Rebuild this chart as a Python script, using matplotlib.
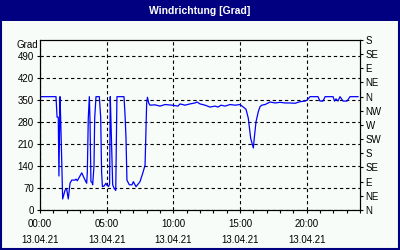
import matplotlib
matplotlib.use("Agg")
import matplotlib.pyplot as plt
from matplotlib.patches import Rectangle

# wind direction over the day, hours since 00:00 on 13.04.21
hours = [0, 1.2, 1.28, 1.37, 1.42, 1.5, 1.55, 1.7, 1.88, 2.0, 2.12, 2.25, 2.38, 2.63,
         2.7, 2.8, 3.13, 3.38, 3.5, 3.55, 3.62, 3.7, 3.75, 3.82, 3.9, 3.95, 4.05, 4.1,
         4.2, 4.45, 4.55, 4.62, 4.68, 4.8, 4.95, 5.03, 5.15, 5.22, 5.27, 5.32, 5.45,
         5.55, 5.68, 5.77, 6.3, 6.38, 6.45, 6.52, 6.7, 6.9, 7.0, 7.2, 7.5, 7.73, 7.88,
         8.0, 8.06, 8.15, 8.25, 8.63, 9.0, 9.38, 9.9, 10.35, 10.5, 10.88, 11.25, 11.63,
         11.78, 12.0, 12.38, 12.75, 13.13, 13.35, 13.58, 13.88, 14.25, 14.63, 15.0,
         15.25, 15.45, 15.62, 15.8, 16.0, 16.07, 16.2, 16.37, 16.5, 16.63, 16.88, 17.25,
         17.63, 18.0, 18.38, 18.75, 19.13, 19.5, 19.88, 20.03, 20.25, 20.85, 21.0, 21.23,
         21.38, 21.98, 22.09, 22.2, 22.35, 22.5, 22.73, 23.03, 23.25, 23.85]
grad = [360, 360, 295, 295, 108, 360, 290, 35, 63, 67, 35, 85, 95, 95,
        98, 93, 118, 95, 85, 120, 290, 360, 285, 90, 88, 80, 140, 290,
        360, 360, 295, 120, 74, 76, 85, 78, 75, 82, 360, 285, 80,
        70, 62, 360, 360, 300, 228, 95, 80, 80, 90, 74, 90, 120, 143,
        340, 358, 340, 333, 334, 330, 335, 333, 330, 337, 333, 337, 340,
        343, 337, 333, 327, 330, 327, 333, 330, 335, 333, 335,
        327, 320, 292, 228, 197, 228, 280, 312, 328, 333, 335, 343,
        340, 342, 340, 340, 339, 344, 346, 349, 360, 360, 346, 346,
        360, 360, 346, 353, 346, 360, 346, 346, 360, 360]

left_ticks = [0, 70, 140, 210, 280, 350, 420, 490]
compass = ["N", "NE", "E", "SE", "S", "SW", "W", "NW", "N", "NE", "E", "SE", "S"]
x_major = [0, 5, 10, 15, 20]
x_labels = ["00:00\n13.04.21", "05:00\n13.04.21", "10:00\n13.04.21",
            "15:00\n13.04.21", "20:00\n13.04.21"]

navy = "#000080"
bg = "#F8FCF8"
plt.rcParams["font.family"] = ["Liberation Sans", "DejaVu Sans"]
plt.rcParams["font.size"] = 7

fig = plt.figure(figsize=(4, 2.5), dpi=100, facecolor=bg)
fig.patches.append(Rectangle((0, 0.918), 1, 0.082, transform=fig.transFigure,
                             facecolor=navy, edgecolor="none", zorder=0))
fig.patches.append(Rectangle((0.002, 0.003), 0.995, 0.995, transform=fig.transFigure,
                             fill=False, edgecolor=navy, linewidth=1.5, zorder=1))
fig.text(0.5, 0.958, "Windrichtung [Grad]", color="white", fontweight="bold",
         fontsize=7.5, ha="center", va="center")

ax = fig.add_axes([0.1, 0.16, 0.8, 0.68], facecolor=bg)
ax.plot(hours, grad, color="#0000FF", linewidth=0.9, zorder=3)
ax.set_xlim(0, 24)
ax.set_ylim(0, 540)

ax.set_xticks(x_major)
ax.set_xticklabels(x_labels, linespacing=1.7)
ax.set_xticks(range(0, 25), minor=True)
ax.set_yticks(left_ticks)
ax.tick_params(axis="both", which="both", direction="out", length=2.5, width=0.8,
               pad=2, labelsize=7)
ax.tick_params(axis="x", pad=4)
ax.grid(True, which="major", color="black", linestyle=(0, (3, 2.5)), linewidth=0.8)
for s in ax.spines.values():
    s.set_linewidth(0.8)

ax2 = ax.twinx()
ax2.set_ylim(0, 540)
ax2.set_yticks(range(0, 541, 45))
ax2.set_yticklabels(compass)
ax2.tick_params(axis="y", direction="out", length=2.5, width=0.8, pad=1.5, labelsize=7)
for s in ax2.spines.values():
    s.set_linewidth(0.8)

fig.text(0.095, 0.82, "Grad", ha="right", va="center", fontsize=7)

fig.savefig("out.png", dpi=100, facecolor=bg)
